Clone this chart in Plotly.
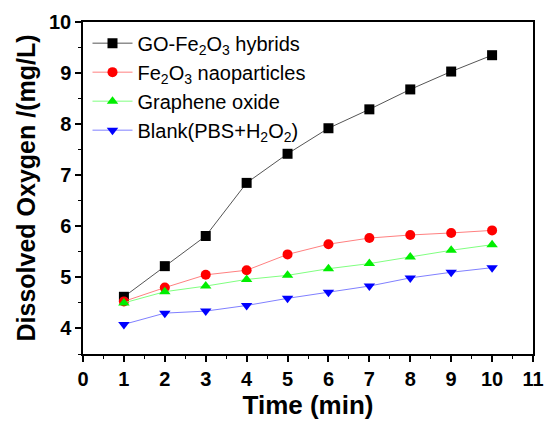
import plotly.graph_objects as go

time = [1, 2, 3, 4, 5, 6, 7, 8, 9, 10]
go_fe2o3 = [4.62, 5.22, 5.81, 6.85, 7.42, 7.92, 8.29, 8.68, 9.03, 9.35]
fe2o3 = [4.53, 4.80, 5.05, 5.14, 5.45, 5.65, 5.77, 5.83, 5.87, 5.92]
graphene = [4.50, 4.72, 4.83, 4.96, 5.04, 5.17, 5.27, 5.40, 5.53, 5.64]
blank = [4.08, 4.30, 4.34, 4.45, 4.59, 4.71, 4.83, 4.99, 5.10, 5.19]

x_ticks = list(range(0, 12))
y_ticks = [4, 5, 6, 7, 8, 9, 10]

series = [
    ("GO-Fe<sub>2</sub>O<sub>3</sub> hybrids", go_fe2o3, "#555555", "black", "square"),
    ("Fe<sub>2</sub>O<sub>3</sub> naoparticles", fe2o3, "#ff8080", "red", "circle"),
    ("Graphene oxide", graphene, "#80ff80", "#00ee00", "triangle-up"),
    ("Blank(PBS+H<sub>2</sub>O<sub>2</sub>)", blank, "#8080ff", "blue", "triangle-down"),
]

fig = go.Figure()
for name, ys, lc, mc, sym in series:
    fig.add_trace(go.Scatter(
        x=time, y=ys, name=name, mode="lines+markers",
        line=dict(color=lc, width=1),
        marker=dict(color=mc, symbol=sym, size=10, line=dict(width=0)),
    ))

font = "Liberation Sans, Arial, sans-serif"
fig.update_layout(
    width=555, height=423,
    margin=dict(l=83, r=11, t=22, b=65),
    plot_bgcolor="white", paper_bgcolor="white",
    font=dict(family=font, color="black"),
    showlegend=True,
    legend=dict(
        x=0.01, y=0.995, xanchor="left", yanchor="top",
        bgcolor="rgba(0,0,0,0)", font=dict(size=20, family=font),
        tracegroupgap=0, itemwidth=40,
    ),
    xaxis=dict(
        range=[0, 11], tickmode="array", tickvals=x_ticks,
        ticktext=[f"<b>{v}</b>" for v in x_ticks],
        ticks="outside", ticklen=6, tickwidth=1.5, tickcolor="black",
        minor=dict(ticks="outside", ticklen=3, dtick=0.5, tickcolor="black", tickwidth=1),
        showline=True, linecolor="black", linewidth=1.5, mirror=True,
        showgrid=False, zeroline=False,
        tickfont=dict(size=20, family=font),
        title=dict(text="<b>Time (min)</b>", font=dict(size=26, family=font), standoff=4),
    ),
    yaxis=dict(
        range=[3.5, 10], tickmode="array", tickvals=y_ticks,
        ticktext=[f"<b>{v}</b>" for v in y_ticks],
        ticks="outside", ticklen=6, tickwidth=1.5, tickcolor="black",
        minor=dict(ticks="outside", ticklen=3, dtick=0.5, tickcolor="black", tickwidth=1),
        showline=True, linecolor="black", linewidth=1.5, mirror=True,
        showgrid=False, zeroline=False,
        tickfont=dict(size=20, family=font),
        title=dict(text="<b>Dissolved Oxygen /(mg/L)</b>", font=dict(size=25, family=font), standoff=6),
    ),
)

fig.write_html("out.html")
